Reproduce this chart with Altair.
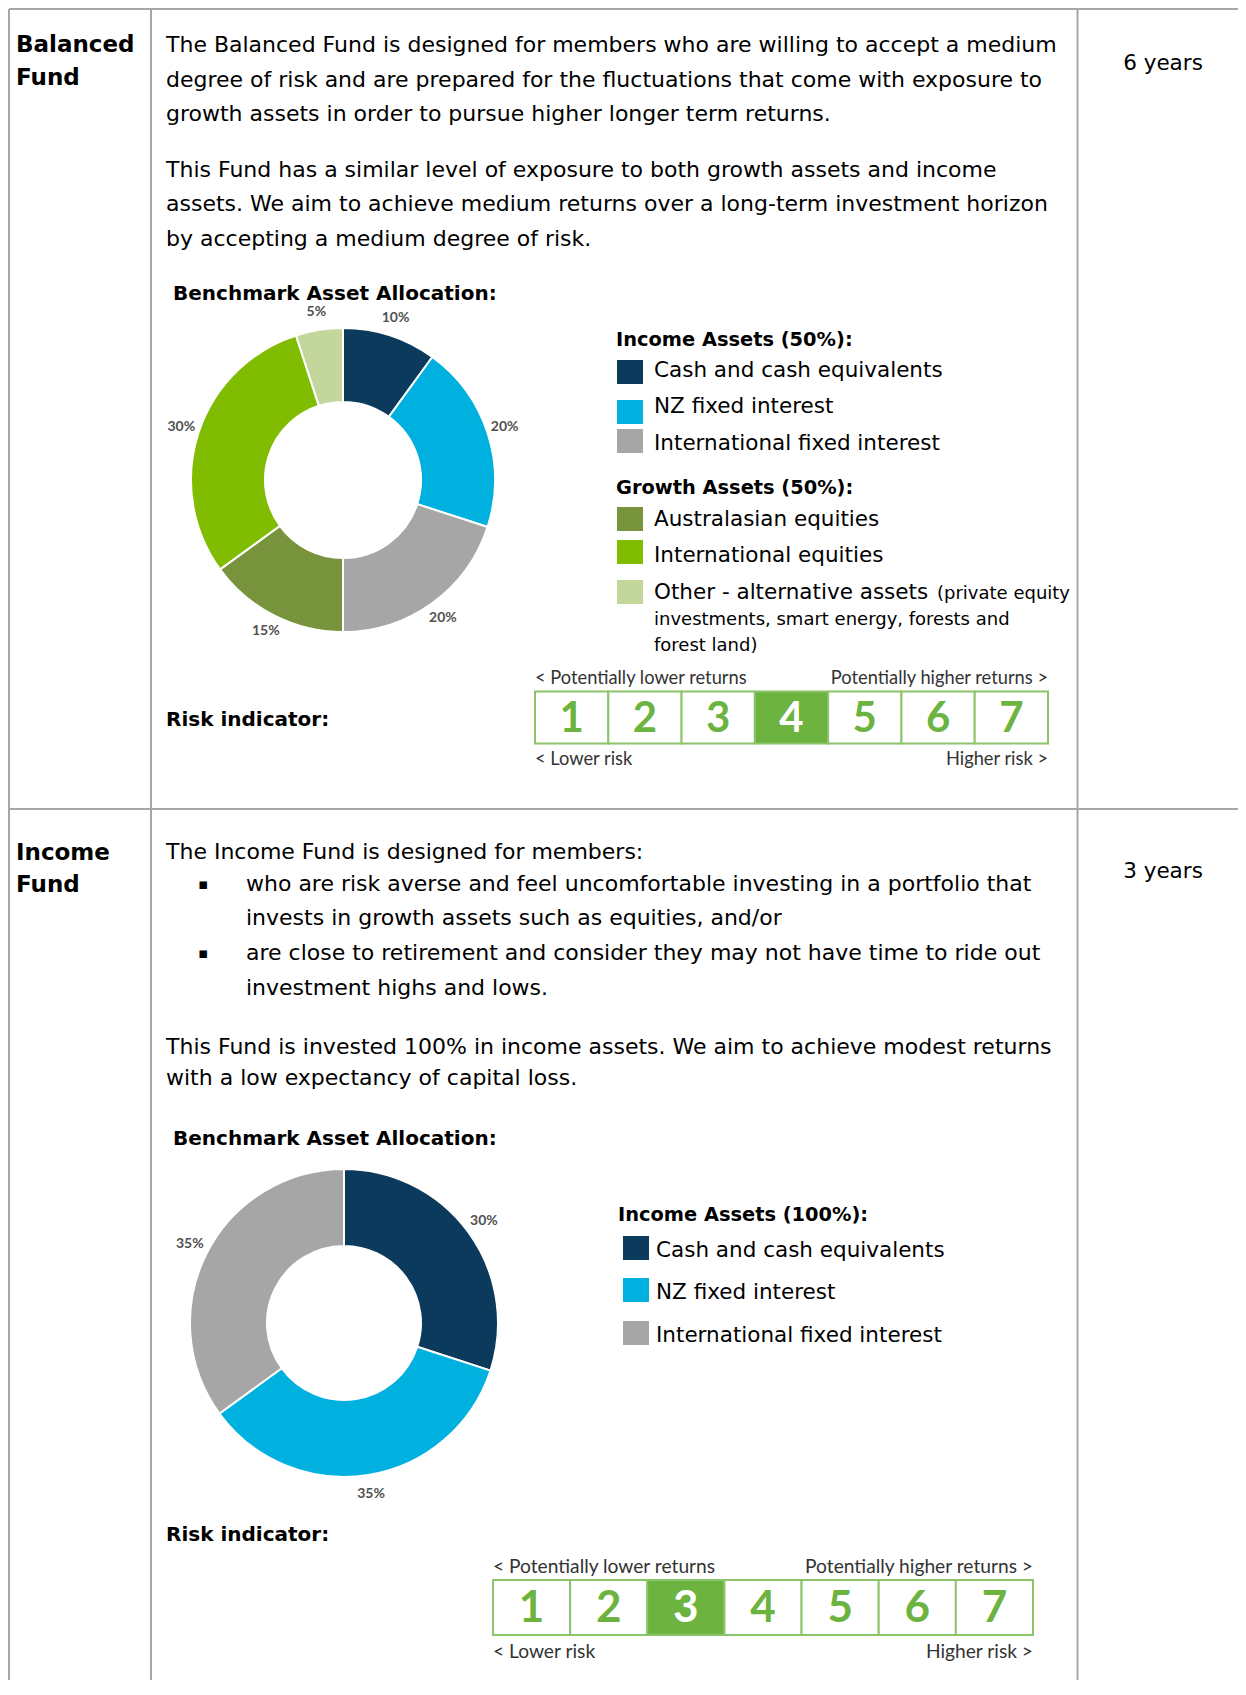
import altair as alt
import pandas as pd

# ---------------- data ----------------
categories = ["Cash and cash equivalents", "NZ fixed interest", "International fixed interest",
              "Australasian equities", "International equities", "Other - alternative assets"]
category_colors = ["#0b3a5c", "#00b0df", "#a6a6a6", "#77933c", "#80bc00", "#c3d69b"]
balanced_values = [10, 20, 20, 15, 30, 5]
income_categories = ["Cash and cash equivalents", "NZ fixed interest", "International fixed interest"]
income_values = [30, 35, 35]
risk_levels = [1, 2, 3, 4, 5, 6, 7]
balanced_risk = 4
income_risk = 3
balanced_timeframe = "6 years"
income_timeframe = "3 years"

# ---------------- layout helpers ----------------
M = 8
W, H = 1230, 1672
BODY = "DejaVu Sans"
SANS2 = "Lato"
LINE = "#a6a6a6"
GREEN = "#6cb33f"
GREEN_BORDER = "#8cc46a"
PARA = 22.0
LEG = 21.5
dummy = pd.DataFrame({"a": [0]})
layers = []


def T(s, x, y, size=PARA, bold=False, align="left", color="#000000", font=BODY, dy=2):
    layers.append(
        alt.Chart(dummy).mark_text(
            x=x - M, y=y - M + dy, fontSize=size, fontWeight="bold" if bold else "normal",
            align=align, baseline="middle", font=font, color=color
        ).encode(text=alt.value(s))
    )


def R(x1, y1, x2, y2, color=LINE, w=2):
    layers.append(
        alt.Chart(dummy).mark_rule(color=color, strokeWidth=w).encode(
            x=alt.value(x1 - M), y=alt.value(y1 - M), x2=alt.value(x2 - M), y2=alt.value(y2 - M)
        )
    )


def S(x1, y1, x2, y2, color):
    layers.append(
        alt.Chart(dummy).mark_rect(color=color).encode(
            x=alt.value(x1 - M), x2=alt.value(x2 - M), y=alt.value(y1 - M), y2=alt.value(y2 - M)
        )
    )


color_scale = alt.Scale(domain=categories, range=category_colors)


def donut(cats, vals, cx, cy, r_in, r_out, r_lab):
    df = pd.DataFrame({"cat": cats, "value": vals, "idx": list(range(len(cats)))})
    base = alt.Chart(df).encode(
        theta=alt.Theta("value:Q", stack=True),
        order=alt.Order("idx:Q"),
    )
    arc = base.mark_arc(
        x=cx - M, y=cy - M, innerRadius=r_in, outerRadius=r_out, stroke="white", strokeWidth=2
    ).encode(color=alt.Color("cat:N", scale=color_scale, legend=None))
    lab = base.transform_calculate(label="datum.value + '%'").mark_text(
        x=cx - M, y=cy - M, radius=r_lab, fontSize=14, font=SANS2, fontWeight="bold",
        color="#505050", baseline="middle", align="center"
    ).encode(text="label:N", detail="cat:N")
    layers.extend([arc, lab])


def risk(x1, x2, y1, y2, sel, ytop, ybot, lab_size, num_size):
    rdf = pd.DataFrame({"level": risk_levels})
    xs = alt.X("level:O", scale=alt.Scale(domain=risk_levels, range=[x1 - M, x2 - M],
                                          paddingInner=0, paddingOuter=0), axis=None)
    cells = alt.Chart(rdf).mark_rect(stroke=GREEN_BORDER, strokeWidth=2).encode(
        x=xs, y=alt.value(y1 - M), y2=alt.value(y2 - M),
        fill=alt.when(alt.datum.level == sel).then(alt.value(GREEN)).otherwise(alt.value("white")),
    )
    nums = alt.Chart(rdf).mark_text(
        fontSize=num_size, fontWeight="bold", font=SANS2, baseline="middle", align="center"
    ).encode(
        x=xs, y=alt.value((y1 + y2) / 2 - M + 1), text="level:N",
        color=alt.when(alt.datum.level == sel).then(alt.value("white")).otherwise(alt.value(GREEN)),
    )
    layers.extend([cells, nums])
    T("< Potentially lower returns", x1, ytop, lab_size, font=SANS2, color="#333333", dy=1)
    T("Potentially higher returns >", x2, ytop, lab_size, font=SANS2, color="#333333", align="right", dy=1)
    T("< Lower risk", x1, ybot, lab_size, font=SANS2, color="#333333", dy=1)
    T("Higher risk >", x2, ybot, lab_size, font=SANS2, color="#333333", align="right", dy=1)


# ---------------- table borders ----------------
R(9, 9, 1238, 9)
R(9, 9, 9, 1695)
R(151, 9, 151, 1695)
R(1077.5, 9, 1077.5, 1695)
R(9, 809, 1238, 809)

# ---------------- Balanced fund ----------------
T("Balanced", 16, 43, 23, bold=True)
T("Fund", 16, 76, 23, bold=True)
para1 = [
    "The Balanced Fund is designed for members who are willing to accept a medium",
    "degree of risk and are prepared for the fluctuations that come with exposure to",
    "growth assets in order to pursue higher longer term returns.",
]
for i, s in enumerate(para1):
    T(s, 166, 43 + i * 34.6)
para2 = [
    "This Fund has a similar level of exposure to both growth assets and income",
    "assets. We aim to achieve medium returns over a long-term investment horizon",
    "by accepting a medium degree of risk.",
]
for i, s in enumerate(para2):
    T(s, 166, 167.5 + i * 34.6)
T(balanced_timeframe, 1163, 61.5, LEG, align="center")
T("Benchmark Asset Allocation:", 173, 292, 20, bold=True)

donut(categories, balanced_values, 343, 480, 78, 152, 170)

T("Income Assets (50%):", 616, 338, 19.4, bold=True)
T("Growth Assets (50%):", 616, 486, 19.4, bold=True)
leg1_text_y = [368.5, 405, 442, 518, 554, 591]
leg1_sw_y = [360, 400, 429, 507, 540, 580]
for c, col, ty, sy in zip(categories, category_colors, leg1_text_y, leg1_sw_y):
    S(617, sy, 643, sy + 24, col)
    T(c, 654, ty, LEG)
T("(private equity", 937, 592, 18)
T("investments, smart energy, forests and", 654, 618, 18)
T("forest land)", 654, 644, 18)

T("Risk indicator:", 166, 717.5, 20, bold=True)
risk(535, 1048, 691.6, 743.5, balanced_risk, 677.6, 758.6, 18.3, 42)

# ---------------- Income fund ----------------
T("Income", 16, 850.5, 23, bold=True)
T("Fund", 16, 883, 23, bold=True)
T("The Income Fund is designed for members:", 166, 849.5)
T("\u25aa", 203, 882, 15, align="center")
T("who are risk averse and feel uncomfortable investing in a portfolio that", 246, 882)
T("invests in growth assets such as equities, and/or", 246, 916)
T("\u25aa", 203, 951, 15, align="center")
T("are close to retirement and consider they may not have time to ride out", 246, 951)
T("investment highs and lows.", 246, 985.6)
T("This Fund is invested 100% in income assets. We aim to achieve modest returns", 166, 1045)
T("with a low expectancy of capital loss.", 166, 1076)
T(income_timeframe, 1163, 870, LEG, align="center")
T("Benchmark Asset Allocation:", 173, 1137, 20, bold=True)

donut(income_categories, income_values, 344, 1323, 77, 154, 173)

T("Income Assets (100%):", 618, 1212.6, 19.4, bold=True)
leg2_text_y = [1249, 1291, 1333.6]
leg2_sw_y = [1236, 1278, 1321]
for c, col, ty, sy in zip(income_categories, category_colors, leg2_text_y, leg2_sw_y):
    S(623, sy, 649, sy + 24, col)
    T(c, 656, ty, LEG)

T("Risk indicator:", 166, 1532.5, 20, bold=True)
risk(493, 1033, 1580, 1635, income_risk, 1566, 1651, 19.2, 44)

chart = alt.layer(*layers).properties(
    width=W, height=H, padding=0, autosize=alt.AutoSizeParams(type="none"), background="white"
).resolve_scale(x="independent").configure_view(stroke=None)

chart.save("out.html", embed_options={"renderer": "svg", "actions": False})
